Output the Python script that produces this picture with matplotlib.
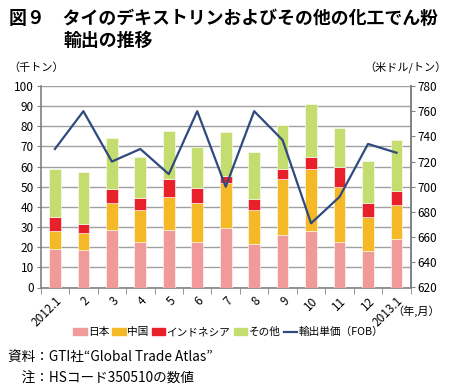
import matplotlib
matplotlib.use("Agg")
import matplotlib.pyplot as plt
import numpy as np
from matplotlib.patches import Patch
from matplotlib.lines import Line2D

plt.rcParams['font.family'] = ['Noto Sans CJK JP', 'DejaVu Sans']

months = ["2012.1", "2", "3", "4", "5", "6", "7", "8", "9", "10", "11", "12", "2013.1"]
japan = [19.2, 18.5, 28.3, 22.5, 28.3, 22.8, 29.4, 21.5, 26.1, 27.8, 22.8, 17.9, 24.0]
china = [8.6, 8.6, 13.5, 16.2, 16.8, 18.9, 22.3, 17.2, 27.5, 31.2, 27.1, 17.1, 17.0]
indonesia = [7.2, 4.3, 7.1, 5.9, 8.5, 7.9, 3.7, 5.4, 5.4, 6.0, 9.9, 7.0, 6.8]
other = [23.8, 26.0, 25.5, 20.0, 24.3, 20.0, 21.6, 23.2, 21.7, 25.9, 19.4, 21.0, 25.3]
unit_price = [730, 760, 720, 730, 710, 760, 700, 760, 737, 671, 692, 734, 727]

c_japan = "#F09A9A"
c_china = "#F5B827"
c_indo = "#E8202A"
c_other = "#C5DC6E"
c_line = "#2E4A7E"

fig = plt.figure(figsize=(4.52, 3.91), dpi=100)
W, H = 452, 391
ax = fig.add_axes([40.7 / W, 1 - 287.5 / H, (410.7 - 40.7) / W, (287.5 - 86) / H])

x = np.arange(len(months))
bw = 0.41
b = np.zeros(len(months))
for vals, col in [(japan, c_japan), (china, c_china), (indonesia, c_indo), (other, c_other)]:
    ax.bar(x, vals, bw, bottom=b, color=col, edgecolor='white', linewidth=0.4, zorder=3)
    b = b + np.array(vals)

ax.set_ylim(0, 100)
ax.set_yticks(range(0, 101, 10))
ax.set_xlim(-0.5, len(months) - 0.5)
ax.set_xticks(x)
ax.set_xticklabels(months, rotation=45, ha='right', rotation_mode='anchor', fontsize=8.5)
ax.tick_params(axis='x', length=0, pad=5)
ax.set_xticks(np.arange(-0.5, len(months), 1), minor=True)
ax.tick_params(axis='x', which='minor', length=4, color='#808080', direction='out')
ax.tick_params(axis='y', labelsize=8.5, length=3, color='#808080', pad=2)
ax.grid(axis='y', color='#A0A0A0', linewidth=1.0, zorder=0)
ax.set_axisbelow(True)
for s in ['top']:
    ax.spines[s].set_visible(False)
for s in ['left', 'right', 'bottom']:
    ax.spines[s].set_color('#808080')
    ax.spines[s].set_linewidth(1.2)

ax2 = ax.twinx()
ax2.plot(x, unit_price, color=c_line, linewidth=1.6, zorder=5)
ax2.set_ylim(620, 780)
ax2.set_yticks(range(620, 781, 20))
ax2.tick_params(axis='y', labelsize=8.5, length=3, color='#808080', pad=2)
for s in ['top', 'left', 'bottom']:
    ax2.spines[s].set_visible(False)
ax2.spines['right'].set_color('#808080')
ax2.spines['right'].set_linewidth(1.2)

fig.text(9 / W, 1 - 19 / H, "図９　タイのデキストリンおよびその他の化工でん粉", fontsize=12.9,
         fontweight='bold', va='center', ha='left')
fig.text(64 / W, 1 - 41 / H, "輸出の推移", fontsize=12.9, fontweight='bold', va='center', ha='left')
fig.text(8 / W, 1 - 68 / H, "（千トン）", fontsize=8, va='center', ha='left')
fig.text(447 / W, 1 - 68 / H, "（米ドル/トン）", fontsize=8, va='center', ha='right')
fig.text(440 / W, 1 - 311 / H, "（年,月）", fontsize=8, va='center', ha='right')

handles = [Patch(color=c_japan), Patch(color=c_china), Patch(color=c_indo), Patch(color=c_other),
           Line2D([0], [0], color=c_line, linewidth=1.6)]
labels = ["日本", "中国", "インドネシア", "その他", "輸出単価（FOB）"]
fig.legend(handles, labels, loc='center', bbox_to_anchor=(228 / W, 1 - 332 / H), ncol=5,
           frameon=False, fontsize=7.7, handlelength=1.3, handleheight=0.6, handletextpad=0.1,
           columnspacing=0.3, borderaxespad=0)

fig.text(8 / W, 1 - 357 / H, "資料：GTI社“Global Trade Atlas”", fontsize=9.8, va='center', ha='left')
fig.text(8 / W, 1 - 379 / H, "　注：HSコード350510の数値", fontsize=9.8, va='center', ha='left')

fig.savefig("out.png", dpi=100)
